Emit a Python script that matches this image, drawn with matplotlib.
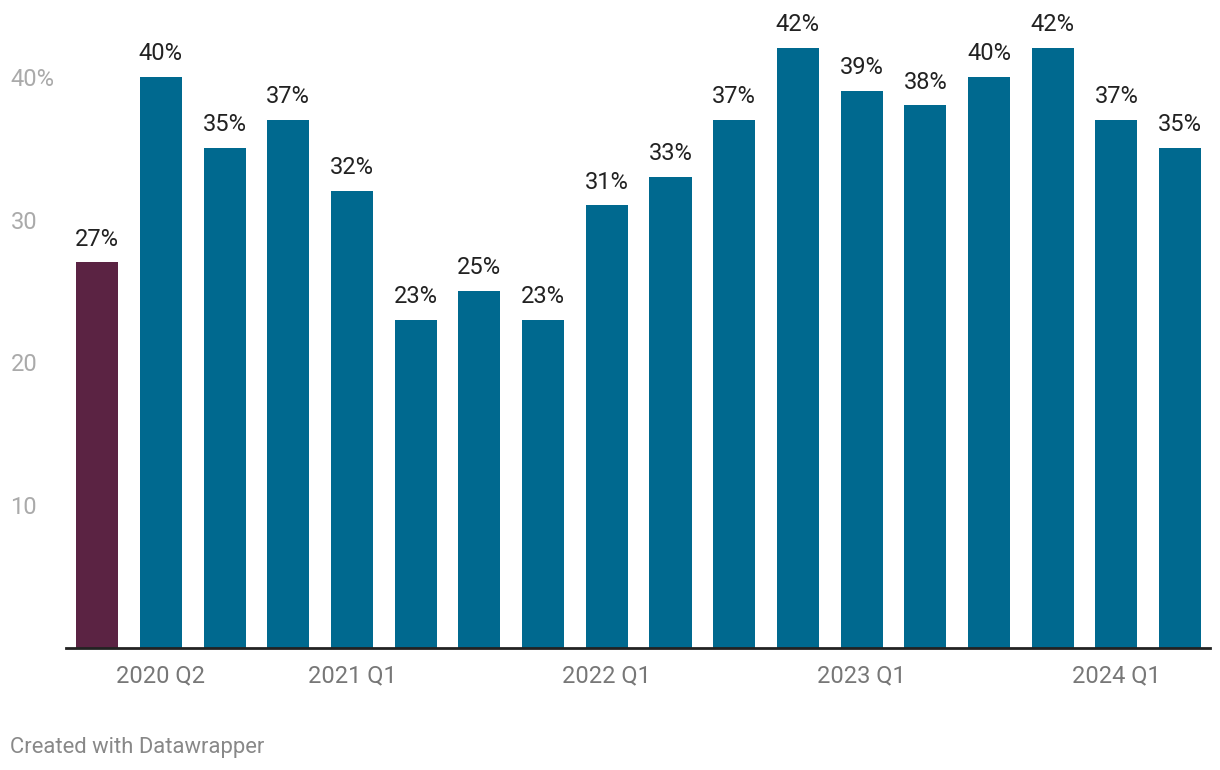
import matplotlib.pyplot as plt
import numpy as np

plt.rcParams['font.family'] = ['Roboto', 'DejaVu Sans']

# quarterly share, 2020 Q1 .. 2024 Q2
quarters = ['2020 Q1', '2020 Q2', '2020 Q3', '2020 Q4',
            '2021 Q1', '2021 Q2', '2021 Q3', '2021 Q4',
            '2022 Q1', '2022 Q2', '2022 Q3', '2022 Q4',
            '2023 Q1', '2023 Q2', '2023 Q3', '2023 Q4',
            '2024 Q1', '2024 Q2']
values = [27, 40, 35, 37, 32, 23, 25, 23, 31, 33, 37, 42, 39, 38, 40, 42, 37, 35]
shown_ticks = ['2020 Q2', '2021 Q1', '2022 Q1', '2023 Q1', '2024 Q1']
y_ticks = [10, 20, 30, 40]
y_labels = ['10', '20', '30', '40%']

colors = ['#5b2343'] + ['#00698f'] * (len(values) - 1)

fig = plt.figure(figsize=(12.2, 7.7), dpi=100)
ax = fig.add_axes([66/1220, 122/770, 1144/1220, 614/770])

x = np.arange(len(values))
bars = ax.bar(x, values, width=0.66, color=colors)

for xi, v in zip(x, values):
    ax.annotate(f'{v}%', (xi, v), xytext=(0, 8.5), textcoords='offset points',
                ha='center', va='bottom', fontsize=17, color='#222222')

ax.set_xlim(-0.49, len(values) - 0.53)
ax.set_ylim(0, 43)

tick_pos = [quarters.index(q) for q in shown_ticks]
ax.set_xticks(tick_pos)
ax.set_xticklabels(shown_ticks, fontsize=17, color='#777777')
ax.tick_params(axis='x', length=0, pad=12)

ax.set_yticks(y_ticks)
ax.set_yticklabels(y_labels, fontsize=17, color='#aaaaaa')
ax.tick_params(axis='y', length=0, pad=40)
for lab in ax.get_yticklabels():
    lab.set_horizontalalignment('left')

for s in ['top', 'right', 'left']:
    ax.spines[s].set_visible(False)
ax.spines['bottom'].set_color('#222222')
ax.spines['bottom'].set_linewidth(2)

fig.text(10/1220, 1 - 747/770, 'Created with Datawrapper', fontsize=15.8,
         color='#888888', ha='left', va='center')

fig.savefig('out.png', dpi=100)
